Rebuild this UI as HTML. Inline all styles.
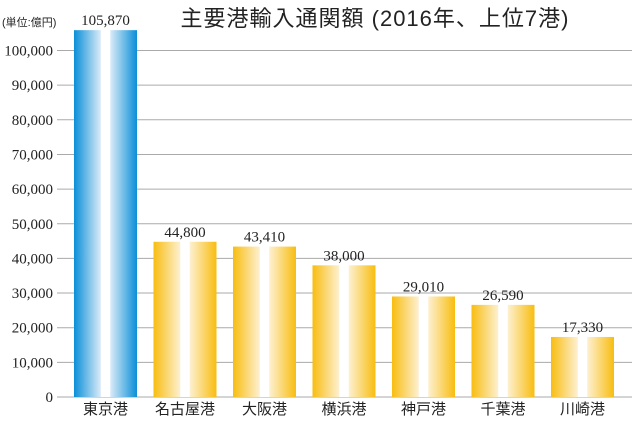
<!DOCTYPE html>
<html><head><meta charset="utf-8"><style>
body{margin:0;background:#fff}
svg text{font-family:"Liberation Serif","Noto Serif CJK SC",serif}
.jp{font-family:"Liberation Sans","Noto Sans CJK JP",sans-serif}
</style></head><body>
<svg width="632" height="417">
<defs>
<linearGradient id="gb" x1="0" x2="1"><stop offset="0" stop-color="#0a8fd8"/><stop offset="0.42" stop-color="#d8eaf8"/><stop offset="0.43" stop-color="#fff"/><stop offset="0.57" stop-color="#fff"/><stop offset="0.58" stop-color="#d8eaf8"/><stop offset="1" stop-color="#0a8fd8"/></linearGradient>
<linearGradient id="gy" x1="0" x2="1"><stop offset="0" stop-color="#f8bd10"/><stop offset="0.42" stop-color="#fdf0cf"/><stop offset="0.43" stop-color="#fff"/><stop offset="0.57" stop-color="#fff"/><stop offset="0.58" stop-color="#fdf0cf"/><stop offset="1" stop-color="#f8bd10"/></linearGradient>
</defs>
<text class="jp" x="375" y="26" font-size="22" letter-spacing="1" text-anchor="middle" fill="#222">主要港輸入通関額 (2016年、上位7港)</text>
<text class="jp" x="2" y="26" font-size="11" fill="#222">(単位:億円)</text>
<g id="grid"></g><g id="bars"></g>
</svg>
<script>
const categories=["東京港","名古屋港","大阪港","横浜港","神戸港","千葉港","川崎港"];
const values=[105870,44800,43410,38000,29010,26590,17330];
const valueLabels=["105,870","44,800","43,410","38,000","29,010","26,590","17,330"];
const ticks=[0,10000,20000,30000,40000,50000,60000,70000,80000,90000,100000];
const NS="http://www.w3.org/2000/svg";
const y=v=>397-v*346.5/100000;
const x=i=>74+i*79.5;
const g=document.getElementById("grid"),b=document.getElementById("bars");
function mk(t,a,p){const e=document.createElementNS(NS,t);for(const k in a)e.setAttribute(k,a[k]);p.appendChild(e);return e;}
ticks.forEach(t=>{
 const l=mk("line",{x1:57,x2:632,y1:y(t),y2:y(t),stroke:"#aaa","stroke-width":1},g);
 
 
 const tx=mk("text",{x:53,y:y(t)+5,"font-size":15,"text-anchor":"end",fill:"#222"},g);
 tx.textContent=t.toLocaleString("en-US");
 
 
});
values.forEach((v,i)=>{
 const r=mk("rect",{x:x(i),y:y(v),width:63,height:y(0)-y(v),fill:i==0?"url(#gb)":"url(#gy)"},b);
 
 
 const vl=mk("text",{x:x(i)+31.5,y:y(v)-5,"font-size":15,"text-anchor":"middle",fill:"#222"},b);
 vl.textContent=valueLabels[i];
 
 
 const cl=mk("text",{x:x(i)+31.5,y:414,"font-size":15,"text-anchor":"middle",fill:"#222",class:"jp"},b);
 cl.textContent=categories[i];
 
 
});
</script>
</body></html>
